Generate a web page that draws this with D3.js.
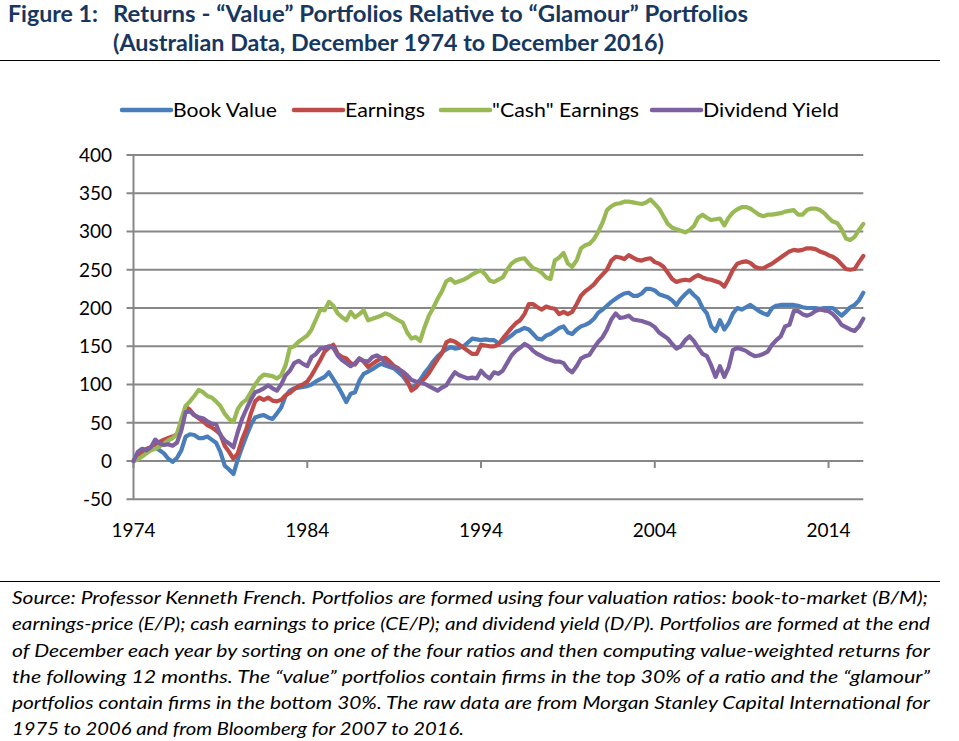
<!DOCTYPE html>
<html><head><meta charset="utf-8">
<script src="https://cdn.jsdelivr.net/npm/d3@7"></script>
<style>body{margin:0;background:#fff}svg{display:block}</style>
</head><body>
<svg id="chart" width="959" height="741"></svg>
<script>
// Quarterly observation dates (Dec 1974 .. Dec 2016)
const quarters = [
"1974-12",
"1975-03","1975-06","1975-09","1975-12","1976-03","1976-06","1976-09","1976-12",
"1977-03","1977-06","1977-09","1977-12","1978-03","1978-06","1978-09","1978-12",
"1979-03","1979-06","1979-09","1979-12","1980-03","1980-06","1980-09","1980-12",
"1981-03","1981-06","1981-09","1981-12","1982-03","1982-06","1982-09","1982-12",
"1983-03","1983-06","1983-09","1983-12","1984-03","1984-06","1984-09","1984-12",
"1985-03","1985-06","1985-09","1985-12","1986-03","1986-06","1986-09","1986-12",
"1987-03","1987-06","1987-09","1987-12","1988-03","1988-06","1988-09","1988-12",
"1989-03","1989-06","1989-09","1989-12","1990-03","1990-06","1990-09","1990-12",
"1991-03","1991-06","1991-09","1991-12","1992-03","1992-06","1992-09","1992-12",
"1993-03","1993-06","1993-09","1993-12","1994-03","1994-06","1994-09","1994-12",
"1995-03","1995-06","1995-09","1995-12","1996-03","1996-06","1996-09","1996-12",
"1997-03","1997-06","1997-09","1997-12","1998-03","1998-06","1998-09","1998-12",
"1999-03","1999-06","1999-09","1999-12","2000-03","2000-06","2000-09","2000-12",
"2001-03","2001-06","2001-09","2001-12","2002-03","2002-06","2002-09","2002-12",
"2003-03","2003-06","2003-09","2003-12","2004-03","2004-06","2004-09","2004-12",
"2005-03","2005-06","2005-09","2005-12","2006-03","2006-06","2006-09","2006-12",
"2007-03","2007-06","2007-09","2007-12","2008-03","2008-06","2008-09","2008-12",
"2009-03","2009-06","2009-09","2009-12","2010-03","2010-06","2010-09","2010-12",
"2011-03","2011-06","2011-09","2011-12","2012-03","2012-06","2012-09","2012-12",
"2013-03","2013-06","2013-09","2013-12","2014-03","2014-06","2014-09","2014-12",
"2015-03","2015-06","2015-09","2015-12","2016-03","2016-06","2016-09","2016-12"
];

const bookValue = [
0,
6,11,14,17, 18,14,10,3, -1,4,14,32, 35,34,30,30, 32,28,24,12, -6,-11,-17,2,
18,33,47,57, 59,60,57,55, 62,70,85,92, 95,96,97,98, 100,104,107,110, 116,107,98,88,
77,88,90,105, 114,117,120,124, 127,125,123,121, 116,111,103,95, 99,106,115,122,
130,137,142,146, 149,147,148,150, 155,160,159,158, 159,158,158,154, 156,160,164,169,
171,174,172,166, 160,159,164,166, 170,174,176,168, 166,172,176,178, 181,186,194,198,
203,208,212,216, 219,220,216,216, 219,225,225,223, 218,216,214,210, 204,212,218,223,
217,212,200,193, 176,170,184,172, 180,193,200,198, 201,204,200,196, 193,191,200,203,
204,204,204,204, 203,201,200,200, 200,199,200,200, 200,195,190,195, 201,204,210,220
];

const earnings = [
0,
8,13,16,18, 22,25,28,30, 32,35,50,71, 67,60,56,52, 47,44,40,35, 20,12,3,10,
28,42,62,78, 83,80,83,79, 78,80,86,89, 94,98,100,104, 112,122,132,143, 148,152,140,136,
134,128,126,134, 130,123,127,131, 134,135,130,124, 121,116,105,92, 96,103,108,115,
124,133,141,155, 158,156,152,148, 144,140,140,152, 151,150,150,152, 160,167,174,180,
184,192,205,205, 201,198,202,200, 199,192,195,192, 195,205,216,222, 226,231,238,244,
250,262,267,266, 264,269,266,263, 262,264,265,260, 258,254,246,238, 234,236,237,236,
240,243,240,238, 237,235,233,228, 238,250,258,260, 261,259,254,252, 252,255,258,262,
266,270,274,276, 275,276,278,278, 277,274,272,269, 267,263,257,251, 250,251,260,268
];

const cashEarnings = [
0,
2,6,10,14, 16,19,23,27, 30,35,55,72, 78,85,93,90, 85,83,78,72, 62,55,51,68,
76,80,90,100, 108,113,112,111, 108,112,125,148, 150,156,160,164, 172,185,198,197, 208,203,193,188,
184,195,188,192, 197,184,186,188, 190,193,191,187, 184,181,168,160, 162,157,175,190,
200,212,222,235, 238,233,235,237, 240,244,247,249, 244,236,234,237, 240,250,258,262,
264,265,258,252, 250,246,240,238, 262,266,272,258, 254,262,278,282, 284,290,300,312,
328,333,336,337, 339,339,338,337, 336,338,342,336, 330,320,310,305, 303,301,299,302,
307,318,322,318, 315,316,317,308, 318,325,329,332, 332,330,326,322, 320,322,322,323,
324,326,327,328, 322,322,328,330, 330,328,324,318, 313,311,303,291, 289,293,302,310
];

const dividendYield = [
0,
12,16,14,18, 28,23,21,22, 20,24,40,64, 65,60,57,56, 52,49,48,34, 27,23,18,38,
55,68,80,90, 92,95,99,95, 92,100,112,118, 128,131,127,124, 136,140,147,148, 150,148,138,132,
128,124,128,134, 131,130,136,138, 135,128,125,123, 120,117,112,106, 104,103,101,98,
95,92,96,99, 108,116,112,110, 108,109,108,118, 112,108,116,114, 118,128,138,144,
148,153,150,144, 140,137,134,132, 130,130,128,120, 116,124,134,137, 139,148,156,162,
172,185,193,187, 188,190,185,184, 183,181,179,175, 168,164,160,153, 147,150,158,163,
157,148,140,137, 125,110,124,110, 122,145,148,146, 144,140,137,138, 140,143,152,158,
163,176,178,196, 196,192,190,192, 196,198,197,196, 192,186,178,175, 172,170,176,186
];

const seriesNames = ["Book Value", "Earnings", "\"Cash\" Earnings", "Dividend Yield"];
const seriesColors = ["#4A7EBB", "#BE4B48", "#98B954", "#7D60A0"];
const yTickValues = [-50, 0, 50, 100, 150, 200, 250, 300, 350, 400];
const xTickLabels = ["1974", "1984", "1994", "2004", "2014"];

const titleLine1a = "Figure 1:";
const titleLine1b = "Returns - \u201CValue\u201D Portfolios Relative to \u201CGlamour\u201D Portfolios";
const titleLine2 = "(Australian Data, December 1974 to December 2016)";
const footLines = [
"Source: Professor Kenneth French. Portfolios are formed using four valuation ratios: book-to-market (B/M);",
"earnings-price (E/P); cash earnings to price (CE/P); and dividend yield (D/P). Portfolios are formed at the end",
"of December each year by sorting on one of the four ratios and then computing value-weighted returns for",
"the following 12 months. The \u201Cvalue\u201D portfolios contain firms in the top 30% of a ratio and the \u201Cglamour\u201D",
"portfolios contain firms in the bottom 30%. The raw data are from Morgan Stanley Capital International for",
"1975 to 2006 and from Bloomberg for 2007 to 2016."
];

// ---------- drawing ----------
const svg = d3.select("#chart");
const FONT = "Lato, 'Open Sans', sans-serif";
const parse = d3.timeParse("%Y-%m");
const dates = quarters.map(parse);

const x = d3.scaleTime()
  .domain([parse("1974-12"), parse("2016-12")])
  .range([133.5, 863.3]);
const y = d3.scaleLinear().domain([-50, 400]).range([499.3, 155]);

// Title
const titleColor = "#17375E";
svg.append("text").attr("x", 8).attr("y", 22).text(titleLine1a)
  .attr("font-family", FONT).attr("font-weight", "bold").attr("font-size", 23).attr("fill", titleColor)
  .attr("textLength", 90).attr("lengthAdjust", "spacingAndGlyphs");
svg.append("text").attr("x", 113).attr("y", 22).text(titleLine1b)
  .attr("font-family", FONT).attr("font-weight", "bold").attr("font-size", 23).attr("fill", titleColor)
  .attr("textLength", 635).attr("lengthAdjust", "spacingAndGlyphs");
svg.append("text").attr("x", 113).attr("y", 51).text(titleLine2)
  .attr("font-family", FONT).attr("font-weight", "bold").attr("font-size", 23).attr("fill", titleColor)
  .attr("textLength", 551).attr("lengthAdjust", "spacingAndGlyphs");
svg.append("line").attr("x1", 0).attr("x2", 940).attr("y1", 60.5).attr("y2", 60.5)
  .attr("stroke", "#000").attr("stroke-width", 1.2);

// Gridlines (with outside tick marks)
const gridColor = "#878787";
svg.append("g").selectAll("line").data(yTickValues).join("line")
  .attr("x1", 126.5).attr("x2", x.range()[1])
  .attr("y1", d => y(d)).attr("y2", d => y(d))
  .attr("stroke", gridColor).attr("stroke-width", 2);

// Y axis line
svg.append("line").attr("x1", x.range()[0]).attr("x2", x.range()[0])
  .attr("y1", y(400)).attr("y2", y(-50)).attr("stroke", gridColor).attr("stroke-width", 2);

// Y tick labels
svg.append("g").selectAll("text").data(yTickValues).join("text")
  .attr("x", 112).attr("y", d => y(d)).attr("dy", "0.36em")
  .attr("text-anchor", "end").attr("font-family", FONT).attr("font-size", 19).attr("fill", "#000")
  .text(d => d);

// X axis ticks (on the zero line) and labels
const xTickDates = xTickLabels.map(s => parse(s + "-12"));
svg.append("g").selectAll("line").data(xTickDates).join("line")
  .attr("x1", d => x(d)).attr("x2", d => x(d))
  .attr("y1", y(0)).attr("y2", y(0) + 7)
  .attr("stroke", gridColor).attr("stroke-width", 2);
svg.append("g").selectAll("text").data(xTickDates).join("text")
  .attr("x", d => x(d)).attr("y", 537)
  .attr("text-anchor", "middle").attr("font-family", FONT).attr("font-size", 19).attr("fill", "#000")
  .text((d, i) => xTickLabels[i]);

// Series lines
const seriesData = [bookValue, earnings, cashEarnings, dividendYield];
const line = d3.line().x((d, i) => x(dates[i])).y(d => y(d)).curve(d3.curveLinear);
svg.append("g").selectAll("path").data(seriesData).join("path")
  .attr("d", d => line(d)).attr("fill", "none")
  .attr("stroke", (d, i) => seriesColors[i]).attr("stroke-width", 4.2)
  .attr("stroke-linejoin", "round").attr("stroke-linecap", "round");

// Legend
const legendX = [122, 294, 441, 652];
const legendTextW = [104, 80, 147, 136];
const lg = svg.append("g").selectAll("g").data(seriesNames).join("g");
lg.append("line").attr("x1", (d, i) => legendX[i]).attr("x2", (d, i) => legendX[i] + 49)
  .attr("y1", 110).attr("y2", 110)
  .attr("stroke", (d, i) => seriesColors[i]).attr("stroke-width", 4.5).attr("stroke-linecap", "round");
lg.append("text").attr("x", (d, i) => legendX[i] + 51).attr("y", 110).attr("dy", "0.35em")
  .attr("font-family", FONT).attr("font-size", 20).attr("fill", "#000")
  .attr("textLength", (d, i) => legendTextW[i]).attr("lengthAdjust", "spacingAndGlyphs")
  .text(d => d);

// Footnote
svg.append("line").attr("x1", 0).attr("x2", 940).attr("y1", 581.5).attr("y2", 581.5)
  .attr("stroke", "#000").attr("stroke-width", 1.2);
const footBase = [604, 630, 657, 683, 709, 735];
const footW = [916, 918, 918, 918, 918, 452];
svg.append("g").selectAll("text").data(footLines).join("text")
  .attr("x", 12).attr("y", (d, i) => footBase[i])
  .attr("font-family", FONT).attr("font-style", "italic").attr("font-size", 18).attr("fill", "#000")
  .attr("textLength", (d, i) => footW[i]).attr("lengthAdjust", "spacingAndGlyphs")
  .text(d => d);
</script>
</body></html>
